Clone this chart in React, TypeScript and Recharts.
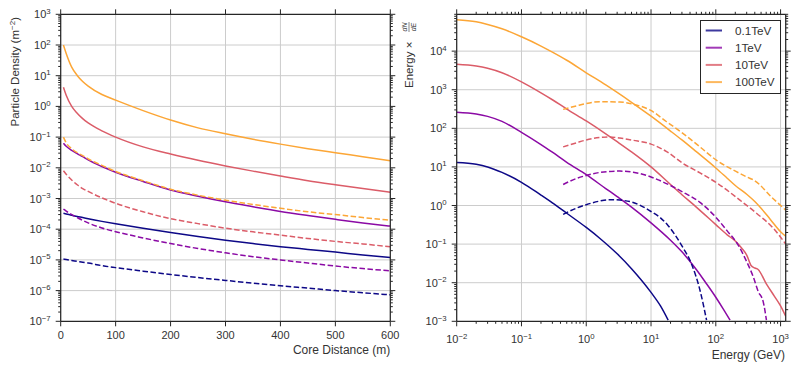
import { CartesianGrid, Line, LineChart, XAxis, YAxis } from "recharts";

const seriesNames = ["0.1TeV", "1TeV", "10TeV", "100TeV"];
const seriesColors = ["#0d0887", "#8b0aa5", "#db5c68", "#fca636"];

// lateral distribution, sampled at these core distances (m)
const coreDistance = [5, 10, 20, 30, 40, 50, 75, 100, 150, 200, 250, 300, 350, 400, 450, 500, 550, 600];

const density01 = [3.3e-4, 3.15e-4, 2.85e-4, 2.6e-4, 2.4e-4, 2.2e-4, 1.8e-4, 1.5e-4, 1.07e-4, 7.8e-5, 5.8e-5, 4.4e-5, 3.4e-5, 2.7e-5, 2.2e-5, 1.8e-5, 1.45e-5, 1.2e-5];
const density1 = [0.063, 0.05, 0.037, 0.029, 0.023, 0.018, 0.011, 0.0072, 0.0036, 0.0019, 0.00119, 0.00078, 0.00054, 0.00038, 0.00028, 0.00021, 0.00016, 0.000126];
const density10 = [4.2, 2.3, 1.0, 0.6, 0.4, 0.29, 0.16, 0.1, 0.048, 0.028, 0.0175, 0.0115, 0.0078, 0.0054, 0.0038, 0.0028, 0.0021, 0.0016];
const density100 = [100, 53, 19, 10.2, 6.5, 4.6, 2.44, 1.6, 0.73, 0.36, 0.2, 0.128, 0.085, 0.059, 0.042, 0.031, 0.023, 0.017];

const density01Dashed = [1.07e-5, 1.03e-5, 9.6e-6, 9.0e-6, 8.4e-6, 7.9e-6, 6.5e-6, 5.6e-6, 4.3e-6, 3.35e-6, 2.65e-6, 2.15e-6, 1.75e-6, 1.44e-6, 1.2e-6, 1.0e-6, 8.5e-7, 7.3e-7];
const density1Dashed = [4.5e-4, 3.9e-4, 3.0e-4, 2.4e-4, 1.95e-4, 1.6e-4, 1.1e-4, 8.3e-5, 5.2e-5, 3.4e-5, 2.35e-5, 1.7e-5, 1.27e-5, 1.0e-5, 7.9e-6, 6.3e-6, 5.2e-6, 4.4e-6];
const density10Dashed = [0.008, 0.0062, 0.004, 0.0028, 0.0021, 0.0017, 0.00105, 0.0007, 0.00037, 0.00022, 0.000152, 0.000108, 0.000082, 0.000064, 0.00005, 0.00004, 0.000033, 0.000027];
const density100Dashed = [0.1, 0.065, 0.042, 0.031, 0.025, 0.0195, 0.012, 0.0076, 0.0038, 0.002, 0.00128, 0.00088, 0.00064, 0.00048, 0.00037, 0.0003, 0.00024, 0.000195];

// energy spectra (GeV) and E x dN/dE
const energy01 = [0.01, 0.02, 0.03, 0.05, 0.1, 0.2, 0.3, 0.5, 1, 1.63, 3, 5, 10, 14, 18.4];
const spectrum01 = [13, 11.7, 10, 7.2, 4.0, 1.86, 1.17, 0.63, 0.27, 0.14, 0.056, 0.023, 0.0056, 0.0025, 0.00107];
const energy1 = [0.01, 0.02, 0.03, 0.05, 0.1, 0.2, 0.3, 0.5, 1, 2, 3, 5, 10, 20, 30, 50, 70, 100, 130, 166];
const spectrum1 = [260, 234, 204, 151, 79, 38, 24, 13.2, 6.3, 2.75, 1.7, 0.91, 0.355, 0.126, 0.063, 0.022, 0.01, 0.0042, 0.0021, 0.00107];
const energy10 = [0.01, 0.02, 0.03, 0.05, 0.1, 0.2, 0.3, 0.5, 1, 2, 3, 5, 10, 20, 30, 50, 100, 150, 200, 250, 300, 350, 400, 450, 600, 800, 1000, 1200];
const spectrum10 = [4600, 4120, 3590, 2750, 1600, 830, 550, 316, 155, 72, 45, 24.5, 10, 3.5, 1.9, 0.91, 0.32, 0.174, 0.12, 0.079, 0.052, 0.028, 0.024, 0.022, 0.0095, 0.0045, 0.0025, 0.00135];
const energy100 = [0.01, 0.02, 0.03, 0.05, 0.1, 0.2, 0.3, 0.5, 1, 2, 3, 5, 10, 20, 30, 50, 100, 150, 200, 300, 400, 500, 700, 1000, 1200];
const spectrum100 = [65000, 57500, 49000, 38000, 23500, 13500, 9400, 5800, 2750, 1330, 850, 473, 206, 85, 50, 24.8, 9.4, 5.1, 3.3, 1.96, 1.27, 0.85, 0.43, 0.21, 0.16];

const energy01Dashed = [0.44, 0.7, 1, 1.6, 2.3, 3.3, 5.3, 10, 14, 18.4, 29.5, 42, 57, 72];
const spectrum01Dashed = [0.59, 0.85, 1.05, 1.3, 1.42, 1.38, 1.2, 0.7, 0.48, 0.3, 0.094, 0.031, 0.0064, 0.00107];
const energy1Dashed = [0.44, 0.7, 1, 1.63, 3.3, 5.3, 10, 13, 20, 30, 57, 100, 150, 217, 300, 380, 450, 540, 605];
const spectrum1Dashed = [3.5, 5.0, 6.0, 7.2, 7.8, 7.3, 5.5, 4.6, 3.3, 2.3, 1.2, 0.5, 0.22, 0.1, 0.035, 0.014, 0.006, 0.0032, 0.00107];
const energy10Dashed = [0.44, 0.7, 1, 1.63, 2.3, 3.3, 5.3, 10, 17.4, 31, 57, 110, 233, 425, 770, 1200];
const spectrum10Dashed = [33, 42, 50, 58, 60, 56, 49, 39, 25, 12.4, 7.0, 3.6, 1.4, 0.63, 0.26, 0.1];
const energy100Dashed = [0.44, 0.7, 1, 1.63, 3.3, 5.3, 9.6, 17.4, 31, 57, 102, 186, 340, 380, 770, 1200];
const spectrum100Dashed = [310, 380, 440, 490, 480, 420, 300, 148, 74, 33, 15, 8.3, 5.0, 4.6, 1.5, 0.76];

type Pt = { x: number; y: number };
const zip = (xs: number[], ys: number[]): Pt[] => xs.map((x, i) => ({ x, y: ys[i] }));

const densitySeries = [
  { c: 0, dashed: false, data: zip(coreDistance, density01) },
  { c: 1, dashed: false, data: zip(coreDistance, density1) },
  { c: 2, dashed: false, data: zip(coreDistance, density10) },
  { c: 3, dashed: false, data: zip(coreDistance, density100) },
  { c: 0, dashed: true, data: zip(coreDistance, density01Dashed) },
  { c: 1, dashed: true, data: zip(coreDistance, density1Dashed) },
  { c: 2, dashed: true, data: zip(coreDistance, density10Dashed) },
  { c: 3, dashed: true, data: zip(coreDistance, density100Dashed) },
];

const spectrumSeries = [
  { c: 0, dashed: false, data: zip(energy01, spectrum01) },
  { c: 1, dashed: false, data: zip(energy1, spectrum1) },
  { c: 2, dashed: false, data: zip(energy10, spectrum10) },
  { c: 3, dashed: false, data: zip(energy100, spectrum100) },
  { c: 0, dashed: true, data: zip(energy01Dashed, spectrum01Dashed) },
  { c: 1, dashed: true, data: zip(energy1Dashed, spectrum1Dashed) },
  { c: 2, dashed: true, data: zip(energy10Dashed, spectrum10Dashed) },
  { c: 3, dashed: true, data: zip(energy100Dashed, spectrum100Dashed) },
];

const distanceTicks = [0, 100, 200, 300, 400, 500, 600];

const decades = (lo: number, hi: number) => {
  const out: number[] = [];
  for (let p = lo; p <= hi; p++) out.push(10 ** p);
  return out;
};
const logTicks = (lo: number, hi: number, max: number) => {
  const out: number[] = [];
  for (let p = lo; p <= hi; p++) {
    for (let m = 1; m <= 9; m++) {
      const v = m * 10 ** p;
      if (v <= max * 1.0001) out.push(v);
    }
  }
  return out;
};
const isDecade = (v: number) => Math.abs(Math.log10(v) - Math.round(Math.log10(v))) < 1e-6;

const FONT = '"Liberation Sans", Arial, sans-serif';
const INK = "#262626";
const TEXT = "#333333";
const spine = { stroke: INK, strokeWidth: 1.25 };

type Side = "left" | "right" | "top" | "bottom";

function Pow10({ v }: { v: number }) {
  const p = Math.round(Math.log10(v));
  const exp = p < 0 ? `\u2212${-p}` : `${p}`;
  return (
    <>
      <tspan>10</tspan>
      <tspan dy={-4.5} fontSize={7.8}>{exp}</tspan>
    </>
  );
}

function tickRenderer(side: Side, withLabels: boolean, log: boolean) {
  return (props: any) => {
    const { x, y, payload } = props;
    const v = payload.value as number;
    const major = !log || isDecade(v);
    const len = major ? 5 : 2.5;
    let line: [number, number, number, number];
    if (side === "left") line = [x, y, x - len, y];
    else if (side === "right") line = [x, y, x + len, y];
    else if (side === "top") line = [x, y, x, y - len];
    else line = [x, y, x, y + len];
    let label = null;
    if (withLabels && major) {
      if (side === "left") {
        label = (
          <text x={x - 10} y={y + 4} textAnchor="end" fontSize={11} fill={TEXT} fontFamily={FONT}>
            {log ? <Pow10 v={v} /> : v}
          </text>
        );
      } else if (side === "bottom") {
        label = (
          <text x={x} y={y + (log ? 21.7 : 17.7)} textAnchor="middle" fontSize={11} fill={TEXT} fontFamily={FONT}>
            {log ? <Pow10 v={v} /> : v}
          </text>
        );
      }
    }
    return (
      <g>
        <line x1={line[0]} y1={line[1]} x2={line[2]} y2={line[3]} stroke={INK} strokeWidth={1} />
        {label}
      </g>
    );
  };
}

// grid positions: use the axis scale when the chart hands it over, otherwise map through the domain
type GridSpec = { values: number[]; domain: [number, number]; log: boolean };
const project = (v: number, spec: GridSpec) => {
  const f = spec.log ? Math.log10 : (n: number) => n;
  return (f(v) - f(spec.domain[0])) / (f(spec.domain[1]) - f(spec.domain[0]));
};
const gridY = (spec: GridSpec) => (args: any) => {
  const s = args?.yAxis?.scale;
  if (typeof s === "function") return spec.values.map((v) => s(v));
  const o = args.offset;
  return spec.values.map((v) => o.top + o.height * (1 - project(v, spec)));
};
const gridX = (spec: GridSpec) => (args: any) => {
  const s = args?.xAxis?.scale;
  if (typeof s === "function") return spec.values.map((v) => s(v));
  const o = args.offset;
  return spec.values.map((v) => o.left + o.width * project(v, spec));
};

const lineProps = (s: { c: number; dashed: boolean }) => ({
  stroke: seriesColors[s.c],
  strokeWidth: 1.5,
  strokeDasharray: s.dashed ? "5.5 2.5" : undefined,
  dot: false as const,
  isAnimationActive: false,
  type: "monotone" as const,
  dataKey: "y",
});

const densityDomain: [number, number] = [1e-7, 1e3];
const distanceDomain: [number, number] = [0, 600];
const energyDomain: [number, number] = [0.01, 1200];
const spectrumDomain: [number, number] = [1e-3, 9e4];

function DensityPanel() {
  const yTicks = logTicks(-7, 3, 1e3);
  return (
    <LineChart width={400} height={368} margin={{ top: 9.3, right: 0, bottom: 16.7, left: 0 }}>
      <CartesianGrid
        stroke="#cccccc"
        strokeWidth={1}
        horizontalCoordinatesGenerator={gridY({ values: decades(-6, 2), domain: densityDomain, log: true })}
        verticalCoordinatesGenerator={gridX({ values: [100, 200, 300, 400, 500], domain: distanceDomain, log: false })}
      />
      <XAxis dataKey="x" type="number" domain={distanceDomain} ticks={distanceTicks} interval={0} height={30}
        tickLine={false} tickSize={0} tickMargin={0} axisLine={spine} tick={tickRenderer("bottom", true, false)} allowDataOverflow />
      <XAxis xAxisId="top" orientation="top" dataKey="x" type="number" domain={distanceDomain} ticks={distanceTicks} interval={0} height={5}
        tickLine={false} tickSize={0} tickMargin={0} axisLine={spine} tick={tickRenderer("top", false, false)} allowDataOverflow />
      <YAxis type="number" scale="log" domain={densityDomain} ticks={yTicks} interval={0} width={60.7}
        tickLine={false} tickSize={0} tickMargin={0} axisLine={spine} tick={tickRenderer("left", true, true)} allowDataOverflow />
      <YAxis yAxisId="r" orientation="right" type="number" scale="log" domain={densityDomain} ticks={yTicks} interval={0} width={9.7}
        tickLine={false} tickSize={0} tickMargin={0} axisLine={spine} tick={tickRenderer("right", false, true)} allowDataOverflow />
      {densitySeries.map((s, i) => (
        <Line key={i} data={s.data} {...lineProps(s)} />
      ))}
    </LineChart>
  );
}

function SpectrumPanel() {
  const xTicks = logTicks(-2, 3, 1200);
  const yTicks = logTicks(-3, 4, 9e4);
  return (
    <LineChart width={397} height={368} margin={{ top: 9.3, right: 0, bottom: 16.7, left: 0 }}>
      <CartesianGrid
        stroke="#cccccc"
        strokeWidth={1}
        horizontalCoordinatesGenerator={gridY({ values: decades(-2, 4), domain: spectrumDomain, log: true })}
        verticalCoordinatesGenerator={gridX({ values: decades(-1, 3), domain: energyDomain, log: true })}
      />
      <XAxis dataKey="x" type="number" scale="log" domain={energyDomain} ticks={xTicks} interval={0} height={30}
        tickLine={false} tickSize={0} tickMargin={0} axisLine={spine} tick={tickRenderer("bottom", true, true)} allowDataOverflow />
      <XAxis xAxisId="top" orientation="top" dataKey="x" type="number" scale="log" domain={energyDomain} ticks={xTicks} interval={0} height={5}
        tickLine={false} tickSize={0} tickMargin={0} axisLine={spine} tick={tickRenderer("top", false, true)} allowDataOverflow />
      <YAxis type="number" scale="log" domain={spectrumDomain} ticks={yTicks} interval={0} width={56.7}
        tickLine={false} tickSize={0} tickMargin={0} axisLine={spine} tick={tickRenderer("left", true, true)} allowDataOverflow />
      <YAxis yAxisId="r" orientation="right" type="number" scale="log" domain={spectrumDomain} ticks={yTicks} interval={0} width={11.3}
        tickLine={false} tickSize={0} tickMargin={0} axisLine={spine} tick={tickRenderer("right", false, true)} allowDataOverflow />
      {spectrumSeries.map((s, i) => (
        <Line key={i} data={s.data} {...lineProps(s)} />
      ))}
    </LineChart>
  );
}

function Labels() {
  return (
    <svg width={797} height={368} style={{ position: "absolute", left: 0, top: 0, pointerEvents: "none" }} fontFamily={FONT}>
      <text transform="translate(18.5, 17) rotate(-90)" textAnchor="end" fontSize={11.5} fill={TEXT}>
        Particle Density (m<tspan dy={-4} fontSize={8}>{"\u22122"}</tspan><tspan dy={4}>)</tspan>
      </text>
      <text x={390.3} y={354} textAnchor="end" fontSize={12} fill={TEXT}>Core Distance (m)</text>
      <text x={785} y={359} textAnchor="end" fontSize={12} fill={TEXT}>Energy (GeV)</text>
      <g transform="translate(412.5, 88) rotate(-90)" fill={TEXT}>
        <text x={0} y={0} fontSize={11.5}>Energy ×</text>
        <text x={61} y={-6} fontSize={7} fontStyle="italic" textAnchor="middle">dN</text>
        <line x1={56} x2={66} y1={-3.5} y2={-3.5} stroke={TEXT} strokeWidth={0.6} />
        <text x={61} y={3.5} fontSize={7} fontStyle="italic" textAnchor="middle">dE</text>
      </g>
      <g>
        <rect x={700.5} y={20.5} width={80} height={73} fill="#ffffff" stroke={INK} strokeWidth={1} />
        {seriesNames.map((name, i) => (
          <g key={name}>
            <line x1={705.7} x2={722} y1={30.5 + i * 17.2} y2={30.5 + i * 17.2} stroke={seriesColors[i]} strokeOpacity={0.8} strokeWidth={2} />
            <text x={735} y={34.7 + i * 17.2} fontSize={11.7} fill={TEXT}>{name}</text>
          </g>
        ))}
      </g>
    </svg>
  );
}

export default function App() {
  return (
    <div style={{ position: "absolute", left: 0, top: 0, width: 797, height: 368, background: "#ffffff", fontFamily: FONT }}>
      <div style={{ position: "absolute", left: 0, top: 0 }}>
        <DensityPanel />
      </div>
      <div style={{ position: "absolute", left: 400, top: 0 }}>
        <SpectrumPanel />
      </div>
      <Labels />
    </div>
  );
}
